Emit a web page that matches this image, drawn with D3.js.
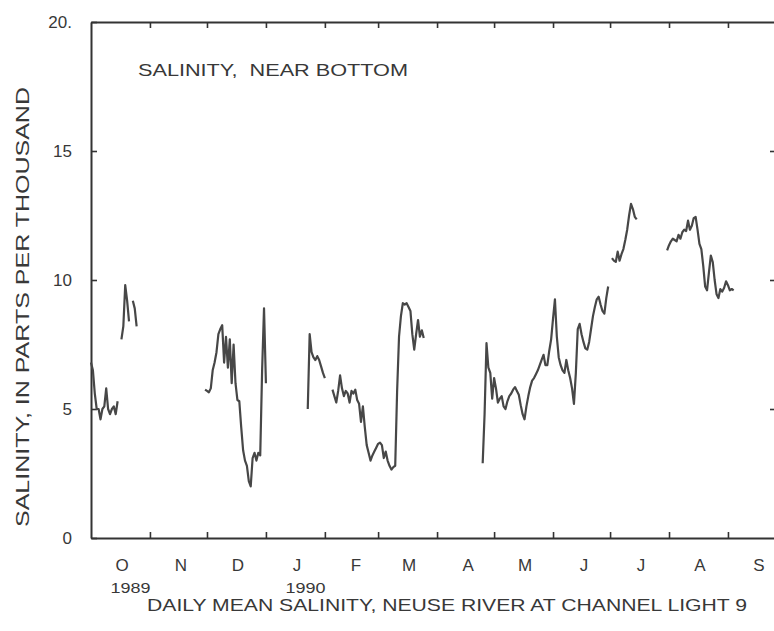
<!DOCTYPE html>
<html>
<head>
<meta charset="utf-8">
<script src="https://cdn.jsdelivr.net/npm/d3@7"></script>
<style>
body { margin: 0; background: #fff; }
svg { display: block; }
text { font-family: "Liberation Sans", Arial, Helvetica, sans-serif; fill: #383838; }
</style>
</head>
<body>
<script>
// define constants
const svgWidth = 774;
const svgHeight = 631;
const plot = {left: 91, right: 785, top: 22, bottom: 538};

// daily mean salinity (ppt); every run starts on its date and goes on day by day
const runStarts = ['1989-10-01', '1989-10-17', '1989-10-23', '1989-11-30',
                   '1990-01-23', '1990-02-05', '1990-04-25', '1990-07-02', '1990-07-31'];
const run1 = [6.8, 6.5, 5.6, 5.0, 5.0, 4.6, 5.0, 5.1, 5.8, 5.0, 4.8, 5.0, 5.1, 4.8, 5.3];
const run2 = [7.7, 8.2, 9.8, 9.2, 8.4];
const run3 = [9.2, 8.9, 8.2];
const run4 = [5.75, 5.7, 5.65, 5.8, 6.5, 6.8, 7.2, 7.9, 8.1, 8.25, 6.8, 7.8, 6.6, 7.7, 6.0, 7.5,
              6.0, 5.35, 5.3, 4.3, 3.4, 3.0, 2.8, 2.2, 2.0, 3.1, 3.3, 3.0, 3.3, 3.2, 6.5, 8.9, 6.0];
const run5 = [5.0, 7.9, 7.2, 7.0, 6.9, 7.05, 6.9, 6.65, 6.4, 6.2];
const run6 = [5.75, 5.5, 5.25, 5.7, 6.3, 5.8, 5.5, 5.7, 5.6, 5.25, 5.7, 5.6, 5.75, 5.35, 5.2, 4.5,
              5.1, 4.3, 3.6, 3.3, 3.0, 3.2, 3.35, 3.5, 3.65, 3.7, 3.6, 3.1, 3.35, 3.0, 2.8, 2.65,
              2.75, 2.8, 5.7, 7.8, 8.6, 9.1, 9.05, 9.1, 8.95, 8.8, 7.9, 7.3, 7.9, 8.45, 7.8, 8.05, 7.75];
const run7 = [2.9, 4.8, 7.55, 6.6, 6.4, 5.4, 6.2, 5.8, 5.25, 5.4, 5.5, 5.1, 5.0, 5.3, 5.5, 5.6,
              5.75, 5.85, 5.7, 5.55, 5.15, 4.8, 4.6, 5.1, 5.5, 5.85, 6.1, 6.2, 6.35, 6.5, 6.7, 6.9,
              7.1, 6.7, 6.7, 7.25, 7.7, 8.5, 9.25, 7.8, 7.0, 6.7, 6.5, 6.4, 6.9, 6.5, 6.2, 5.8,
              5.2, 6.4, 8.1, 8.3, 7.9, 7.6, 7.35, 7.3, 7.6, 8.1, 8.6, 8.95, 9.25, 9.35, 9.05, 8.8,
              8.7, 9.3, 9.75];
const run8 = [10.85, 10.75, 10.7, 11.1, 10.75, 11.0, 11.2, 11.55, 11.95, 12.5, 12.95, 12.75, 12.45, 12.35];
const run9 = [11.15, 11.35, 11.5, 11.6, 11.55, 11.5, 11.75, 11.6, 11.85, 11.95, 11.9, 12.3, 11.95,
              12.1, 12.4, 12.45, 11.95, 11.4, 11.2, 10.55, 9.75, 9.6, 10.3, 10.95, 10.7, 10.0, 9.45,
              9.3, 9.65, 9.55, 9.7, 9.95, 9.8, 9.6, 9.65, 9.6];
const runs = [run1, run2, run3, run4, run5, run6, run7, run8, run9];

// tick labels
const monthLabels = ['O', 'N', 'D', 'J', 'F', 'M', 'A', 'M', 'J', 'J', 'A', 'S'];
const yearLabels = ['1989', '1990'];
const yearMonths = [0, 3];
const yTicks = [0, 5, 10, 15, 20];
const yTickLabels = ['0', '5', '10', '15', '20.'];

const parseDate = d3.timeParse('%Y-%m-%d');
const startDate = parseDate('1989-10-01');
const endDate = parseDate('1990-10-01');

const runData = runs.map((values, i) => values.map((v, j) => ({
    date: d3.timeDay.offset(parseDate(runStarts[i]), j),
    value: v
})));

const svg = d3.select('body')
              .append('svg')
              .attr('width', svgWidth)
              .attr('height', svgHeight);

const xScale = d3.scaleTime()
                 .domain([startDate, endDate])
                 .range([plot.left, plot.right]);

const yScale = d3.scaleLinear()
                 .domain([0, 20])
                 .range([plot.bottom, plot.top]);

const monthStarts = d3.timeMonth.range(d3.timeMonth.offset(startDate, 1), endDate);
const midMonths = d3.timeMonth.range(startDate, endDate).map(m => d3.timeDay.offset(m, 15));

// frame: axes with inward ticks
function styleAxis(g) {
    g.selectAll('path.domain').attr('stroke', '#333').attr('stroke-width', 2);
    g.selectAll('.tick line').attr('stroke', '#333').attr('stroke-width', 1.6);
}

svg.append('g')
   .attr('transform', 'translate(0,' + plot.bottom + ')')
   .call(d3.axisBottom(xScale).tickValues(monthStarts).tickSize(-6).tickSizeOuter(0).tickFormat(''))
   .call(styleAxis);

svg.append('g')
   .attr('transform', 'translate(0,' + plot.top + ')')
   .call(d3.axisTop(xScale).tickValues(monthStarts).tickSize(-6).tickSizeOuter(0).tickFormat(''))
   .call(styleAxis);

svg.append('g')
   .attr('transform', 'translate(' + plot.left + ',0)')
   .call(d3.axisLeft(yScale).tickValues(yTicks).tickSize(-6).tickSizeOuter(0).tickPadding(19)
           .tickFormat((d, i) => yTickLabels[i]))
   .call(styleAxis)
   .call(g => g.selectAll('.tick text').attr('font-size', 17).attr('fill', '#383838')
                .attr('font-family', '"Liberation Sans", Arial, sans-serif'));

svg.append('g')
   .attr('transform', 'translate(780,0)')
   .call(d3.axisRight(yScale).tickValues(yTicks.slice(1, 4)).tickSize(-10).tickSizeOuter(0).tickFormat(''))
   .call(styleAxis);

// month letters under the axis
svg.append('g')
   .attr('transform', 'translate(0,' + plot.bottom + ')')
   .call(d3.axisBottom(xScale).tickValues(midMonths).tickSize(0).tickPadding(21)
           .tickFormat((d, i) => monthLabels[i]))
   .call(g => g.select('.domain').remove())
   .call(g => g.selectAll('.tick text').attr('font-size', 17).attr('fill', '#383838')
                .attr('font-family', '"Liberation Sans", Arial, sans-serif')
                .attr('transform', 'translate(2,0)'));

svg.selectAll('text.year')
   .data(yearLabels)
   .enter()
   .append('text')
   .attr('class', 'year')
   .attr('x', (d, i) => xScale(midMonths[yearMonths[i]]) + 11)
   .attr('y', 593)
   .attr('text-anchor', 'middle')
   .attr('font-size', 14)
   .attr('textLength', 40)
   .attr('lengthAdjust', 'spacingAndGlyphs')
   .text(d => d);

// salinity line, one path per run
const line = d3.line()
               .x(d => xScale(d.date))
               .y(d => yScale(d.value));

svg.selectAll('path.run')
   .data(runData)
   .enter()
   .append('path')
   .attr('class', 'run')
   .attr('d', line)
   .attr('fill', 'none')
   .attr('stroke', '#474747')
   .attr('stroke-width', 2.2)
   .attr('stroke-linejoin', 'round');

// labels
svg.append('text')
   .attr('x', 138)
   .attr('y', 76)
   .attr('font-size', 17)
   .attr('textLength', 270)
   .attr('lengthAdjust', 'spacingAndGlyphs')
   .style('white-space', 'pre')
   .text('SALINITY,  NEAR BOTTOM');

svg.append('text')
   .attr('transform', 'translate(29,' + 307 + ') rotate(-90)')
   .attr('text-anchor', 'middle')
   .attr('font-size', 19)
   .attr('textLength', 440)
   .attr('lengthAdjust', 'spacingAndGlyphs')
   .text('SALINITY, IN PARTS PER THOUSAND');

svg.append('text')
   .attr('x', 447)
   .attr('y', 611)
   .attr('text-anchor', 'middle')
   .attr('font-size', 17)
   .attr('textLength', 600)
   .attr('lengthAdjust', 'spacingAndGlyphs')
   .text('DAILY MEAN SALINITY, NEUSE RIVER AT CHANNEL LIGHT 9');
</script>
</body>
</html>
